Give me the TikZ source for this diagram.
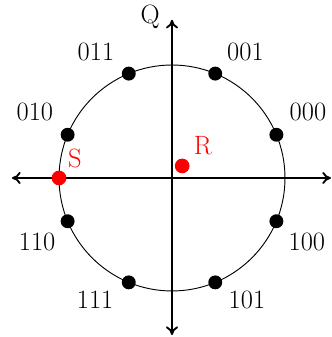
\documentclass[tikz,border=0pt]{standalone}
\usetikzlibrary{arrows.meta}
\definecolor{pskink}{HTML}{000000}
\definecolor{pskred}{HTML}{FF0000}

\begin{document}
\begin{tikzpicture}[x=1cm, y=1cm, font=\fontsize{20}{24}\selectfont, text=pskink,
    axis/.style={draw=pskink, line width=1.4pt, {To[length=2.3mm, width=3.2mm]}-{To[length=2.3mm, width=3.2mm]}},
    ring/.style={draw=pskink, line width=0.7pt},
    symbol/.style={circle, fill=pskink, draw=none, inner sep=0pt, minimum size=3.7mm},
    marked/.style={circle, fill=pskred, draw=none, inner sep=0pt, minimum size=3.9mm},
    bits/.style={inner sep=0pt},
  ]
  % frame of the figure (label I runs past the right edge)
  \useasboundingbox (-4.567, -4.222) rectangle (4.222, 4.726);

  % constellation radius
  \pgfmathsetmacro{\rad}{3}

  % axis ends
  \coordinate (west) at (-4.25, 0);
  \coordinate (east) at (4.22, 0);
  \coordinate (south) at (0, -4.17);
  \coordinate (north) at (0, 4.2);

  % unit circle
  \draw[ring] (0,0) circle (\rad);

  % axes
  \draw[axis] (west) -- (east);
  \draw[axis] (south) -- (north);
  \node (qlab) at (-0.58, 4.27) {Q};
  \node[anchor=west] (ilab) at (4.13, -0.6) {I};

  % 8-PSK symbols with their bit labels
  \foreach \ang/\name/\lx/\ly in {22.5/000/3.61/1.75, 67.5/001/1.95/3.35,
      112.5/011/-2.02/3.35, 157.5/010/-3.64/1.75, 202.5/110/-3.58/-1.70,
      247.5/111/-2.04/-3.24, 292.5/101/1.99/-3.24, 337.5/100/3.58/-1.70} {
    \node[symbol] (s\name) at (\ang:\rad) {};
    \node[bits] (b\name) at (\lx, \ly) {\name};
  }

  % sent symbol S and received point R
  \node[marked] (sent) at (180:\rad) {};
  \node[text=pskred] (slab) at (-2.58, 0.53) {S};
  \node[marked] (recv) at (0.27, 0.32) {};
  \node[text=pskred] (rlab) at (0.82, 0.85) {R};
\end{tikzpicture}
\end{document}
